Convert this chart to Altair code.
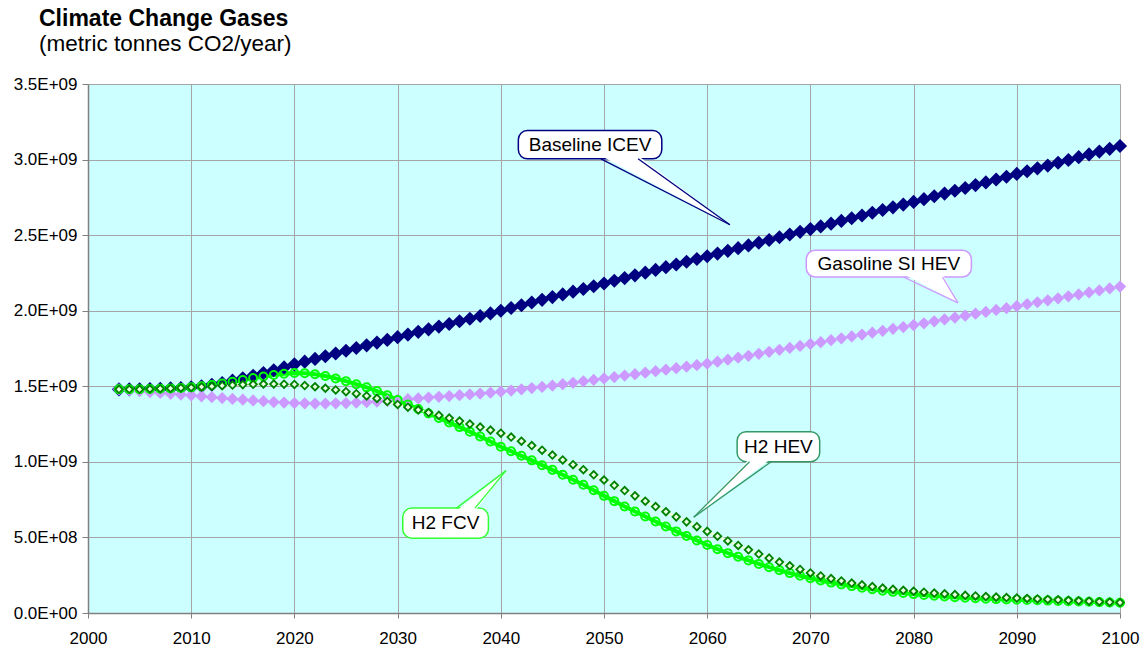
import altair as alt
import pandas as pd

FONT = "Liberation Sans"

years = list(range(2003, 2101))

# values in billions of metric tonnes CO2 / year
baseline_icev = [
    1.480, 1.480, 1.480, 1.482, 1.484, 1.486, 1.489,
    1.493, 1.500, 1.510, 1.522, 1.537, 1.553, 1.570, 1.588, 1.606, 1.625,
    1.645, 1.663, 1.681, 1.699, 1.717, 1.735, 1.753, 1.771, 1.789, 1.807,
    1.825, 1.842, 1.860, 1.877, 1.895, 1.912, 1.930, 1.947, 1.965, 1.982,
    2.000, 2.018, 2.036, 2.054, 2.072, 2.090, 2.108, 2.126, 2.144, 2.162,
    2.180, 2.198, 2.216, 2.234, 2.252, 2.270, 2.288, 2.306, 2.324, 2.342,
    2.360, 2.378, 2.396, 2.414, 2.432, 2.450, 2.468, 2.486, 2.504, 2.522,
    2.540, 2.558, 2.576, 2.594, 2.612, 2.630, 2.648, 2.666, 2.684, 2.702,
    2.720, 2.738, 2.757, 2.775, 2.794, 2.812, 2.831, 2.849, 2.868, 2.886,
    2.905, 2.923, 2.942, 2.960, 2.979, 2.997, 3.016, 3.034, 3.053, 3.071,
    3.090,
]
gasoline_si_hev = [
    1.480, 1.474, 1.468, 1.462, 1.456, 1.450, 1.445,
    1.440, 1.434, 1.428, 1.422, 1.416, 1.411, 1.406, 1.401, 1.396, 1.392,
    1.389, 1.387, 1.386, 1.386, 1.387, 1.389, 1.392, 1.395, 1.399, 1.404,
    1.410, 1.415, 1.420, 1.425, 1.430, 1.435, 1.441, 1.446, 1.452, 1.458,
    1.464, 1.472, 1.480, 1.488, 1.496, 1.505, 1.514, 1.523, 1.533, 1.542,
    1.552, 1.561, 1.571, 1.580, 1.590, 1.600, 1.610, 1.620, 1.630, 1.640,
    1.650, 1.663, 1.676, 1.689, 1.702, 1.715, 1.728, 1.741, 1.754, 1.767,
    1.780, 1.792, 1.805, 1.817, 1.830, 1.842, 1.855, 1.867, 1.880, 1.892,
    1.905, 1.917, 1.930, 1.942, 1.955, 1.967, 1.980, 1.992, 2.005, 2.017,
    2.030, 2.043, 2.056, 2.069, 2.082, 2.095, 2.108, 2.121, 2.134, 2.147,
    2.160,
]
h2_fcv = [
    1.480, 1.480, 1.480, 1.482, 1.484, 1.486, 1.489,
    1.493, 1.500, 1.509, 1.519, 1.530, 1.542, 1.554, 1.565, 1.575, 1.583,
    1.588, 1.587, 1.580, 1.568, 1.552, 1.534, 1.514, 1.493, 1.468, 1.440,
    1.410, 1.380, 1.350, 1.320, 1.290, 1.260, 1.230, 1.200, 1.168, 1.135,
    1.100, 1.070, 1.040, 1.010, 0.978, 0.947, 0.915, 0.882, 0.848, 0.812,
    0.775, 0.740, 0.705, 0.672, 0.638, 0.605, 0.572, 0.540, 0.510, 0.480,
    0.450, 0.422, 0.396, 0.372, 0.348, 0.325, 0.303, 0.283, 0.264, 0.246,
    0.230, 0.215, 0.201, 0.189, 0.178, 0.167, 0.157, 0.148, 0.140, 0.132,
    0.125, 0.119, 0.114, 0.109, 0.105, 0.101, 0.098, 0.095, 0.092, 0.090,
    0.088, 0.086, 0.084, 0.082, 0.080, 0.078, 0.076, 0.074, 0.072, 0.070,
    0.068,
]
h2_hev = [
    1.480, 1.480, 1.480, 1.482, 1.484, 1.486, 1.489,
    1.492, 1.496, 1.500, 1.504, 1.508, 1.511, 1.513, 1.515, 1.515, 1.514,
    1.512, 1.505, 1.497, 1.487, 1.476, 1.464, 1.451, 1.436, 1.420, 1.400,
    1.380, 1.362, 1.344, 1.326, 1.308, 1.290, 1.270, 1.250, 1.230, 1.210,
    1.190, 1.164, 1.137, 1.108, 1.077, 1.045, 1.013, 0.981, 0.948, 0.914,
    0.880, 0.845, 0.810, 0.775, 0.740, 0.704, 0.670, 0.636, 0.603, 0.571,
    0.540, 0.508, 0.477, 0.447, 0.418, 0.390, 0.363, 0.337, 0.312, 0.288,
    0.265, 0.245, 0.228, 0.212, 0.198, 0.186, 0.175, 0.165, 0.157, 0.150,
    0.144, 0.138, 0.132, 0.127, 0.122, 0.117, 0.113, 0.109, 0.105, 0.102,
    0.099, 0.096, 0.093, 0.090, 0.087, 0.084, 0.081, 0.078, 0.075, 0.072,
    0.069,
]

x_ticks = list(range(2000, 2101, 10))
y_ticks = [i * 0.5e9 for i in range(8)]

title_text = "Climate Change Gases"
subtitle_text = "(metric tonnes CO2/year)"

# callouts (positions in data units: year, billions)
callout_labels = ["Baseline ICEV", "Gasoline SI HEV", "H2 HEV", "H2 FCV"]
callout_colors = ["#000080", "#CC99FF", "#339966", "#33FF33"]
box_x1 = [2041.7, 2069.6, 2062.9, 2030.5]
box_x2 = [2055.6, 2085.6, 2070.9, 2038.8]
box_top = [3.192, 2.400, 1.200, 0.694]
box_bottom = [3.005, 2.223, 1.001, 0.495]
ptr_base_a = [2049.7, 2079.0, 2064.1, 2035.7]
ptr_base_b = [2053.3, 2082.8, 2066.2, 2037.5]
ptr_tip_x = [2062.2, 2084.3, 2058.7, 2040.5]
ptr_tip_y = [2.569, 2.052, 0.634, 0.942]

for s in (baseline_icev, gasoline_si_hev, h2_fcv, h2_hev):
    assert len(s) == len(years)

B = 1e9
series = pd.DataFrame({
    "year": years * 4,
    "series": (["Baseline ICEV"] * len(years) + ["Gasoline SI HEV"] * len(years)
               + ["H2 FCV"] * len(years) + ["H2 HEV"] * len(years)),
    "value": [v * B for v in baseline_icev + gasoline_si_hev + h2_fcv + h2_hev],
})

boxes = pd.DataFrame({
    "label": callout_labels,
    "color": callout_colors,
    "x1": box_x1, "x2": box_x2,
    "top": [v * B for v in box_top],
    "bottom": [v * B for v in box_bottom],
})
boxes["tx"] = (boxes["x1"] + boxes["x2"]) / 2
boxes["ty"] = (boxes["top"] + boxes["bottom"]) / 2

edge_rows = []
tri_rows = []
for i in range(len(callout_labels)):
    tip = (ptr_tip_x[i], ptr_tip_y[i] * B)
    below = ptr_tip_y[i] < box_bottom[i]
    yb_units = box_bottom[i] if below else box_top[i]
    yb = yb_units * B
    ybin = (yb_units + (0.02 if below else -0.02)) * B
    for bx in (ptr_base_a[i], ptr_base_b[i]):
        edge_rows.append({"x": tip[0], "y": tip[1], "x2": bx, "y2": yb, "color": callout_colors[i]})
    pts = sorted([(ptr_base_a[i], ybin), (ptr_base_b[i], ybin), tip])
    (x0, y0), (x1, y1), (x2, y2) = pts
    ye = y0 + (y2 - y0) * (x1 - x0) / (x2 - x0)
    tri_rows += [
        {"id": i, "x": x0, "lo": y0, "hi": y0},
        {"id": i, "x": x1, "lo": y1, "hi": ye},
        {"id": i, "x": x2, "lo": y2, "hi": y2},
    ]
edges = pd.DataFrame(edge_rows)
tris = pd.DataFrame(tri_rows)

x_scale = alt.Scale(domain=[2000, 2100], nice=False, zero=False)
y_scale = alt.Scale(domain=[0, 3.5e9], nice=False)

x_axis = alt.Axis(values=x_ticks, format="d", title="", grid=True, gridColor="#a6a6a6",
                  gridWidth=1, domainColor="#808080", domainWidth=1.5, tickColor="#808080",
                  tickSize=5, labelPadding=12, labelFont=FONT, labelFontSize=17,
                  labelColor="black", labelFlush=False, labelOverlap=False)
y_axis = alt.Axis(values=y_ticks, title="", grid=True, gridColor="#a6a6a6", gridWidth=1,
                  domainColor="#808080", domainWidth=1.5, tickColor="#808080", tickSize=6,
                  labelPadding=5, labelFont=FONT, labelFontSize=17, labelColor="black",
                  labelOverlap=False,
                  labelExpr="datum.value == 0 ? '0.0E+00' : (datum.value < 1e9 ? format(datum.value/1e8, '.1f') + 'E+08' : format(datum.value/1e9, '.1f') + 'E+09')")


def X(field):
    return alt.X(field, type="quantitative", scale=x_scale, axis=x_axis)


def Y(field):
    return alt.Y(field, type="quantitative", scale=y_scale, axis=y_axis)


base = alt.Chart(series)

fcv_line = base.transform_filter(alt.datum.series == "H2 FCV").mark_line(
    color="#00FF00", strokeWidth=4).encode(x=X("year"), y=Y("value"))
hev_line = base.transform_filter(alt.datum.series == "H2 HEV").mark_line(
    color="#eaffd8", strokeWidth=2.5).encode(x=X("year"), y=Y("value"))

icev_pts = base.transform_filter(alt.datum.series == "Baseline ICEV").mark_point(
    shape="diamond", filled=True, color="#000080", size=200, opacity=1).encode(x=X("year"), y=Y("value"))
gas_pts = base.transform_filter(alt.datum.series == "Gasoline SI HEV").mark_point(
    shape="diamond", filled=True, color="#CC99FF", size=150, opacity=1).encode(x=X("year"), y=Y("value"))
fcv_pts = base.transform_filter(alt.datum.series == "H2 FCV").mark_point(
    shape="circle", filled=False, color="#00FF00", strokeWidth=2, size=64, opacity=1).encode(x=X("year"), y=Y("value"))
hev_pts = base.transform_filter(alt.datum.series == "H2 HEV").mark_point(
    shape="diamond", fill="#e8ffe0", stroke="#008000", strokeWidth=1.8, size=56, opacity=1,
    filled=True).encode(x=X("year"), y=Y("value"))

box_layer = alt.Chart(boxes).mark_rect(cornerRadius=9, fill="white", strokeWidth=1.5).encode(
    x=X("x1"), x2="x2", y=Y("top"), y2="bottom", stroke=alt.Stroke("color:N", scale=None))
tri_layer = alt.Chart(tris).mark_area(color="white", opacity=1).encode(
    x=X("x"), y=Y("lo"), y2="hi", detail="id:N")
edge_layer = alt.Chart(edges).mark_rule(strokeWidth=1.3).encode(
    x=X("x"), y=Y("y"), x2="x2", y2="y2", stroke=alt.Stroke("color:N", scale=None))
label_layer = alt.Chart(boxes).mark_text(font=FONT, fontSize=19, color="black",
                                         align="center", baseline="middle").encode(
    x=X("tx"), y=Y("ty"), text="label:N")

titles = pd.DataFrame({"t": [title_text]})
subtitles = pd.DataFrame({"t": [subtitle_text]})
title_layer = alt.Chart(titles).mark_text(font=FONT, fontSize=23, fontWeight="bold",
                                          align="left", baseline="alphabetic", color="black").encode(
    text="t:N", x=alt.value(-49), y=alt.value(-58))
subtitle_layer = alt.Chart(subtitles).mark_text(font=FONT, fontSize=22.5,
                                                align="left", baseline="alphabetic", color="black").encode(
    text="t:N", x=alt.value(-49), y=alt.value(-33))

chart = alt.layer(
    fcv_line, hev_line, icev_pts, gas_pts, fcv_pts, hev_pts,
    box_layer, tri_layer, edge_layer, label_layer, title_layer, subtitle_layer,
).properties(
    width=1032, height=529,
    autosize=alt.AutoSizeParams(type="none"),
    padding={"left": 88, "top": 84, "right": 26, "bottom": 36},
).configure_view(fill="#CCFFFF", stroke="transparent")

chart.save("out.html", embed_options={"renderer": "svg", "actions": False})
